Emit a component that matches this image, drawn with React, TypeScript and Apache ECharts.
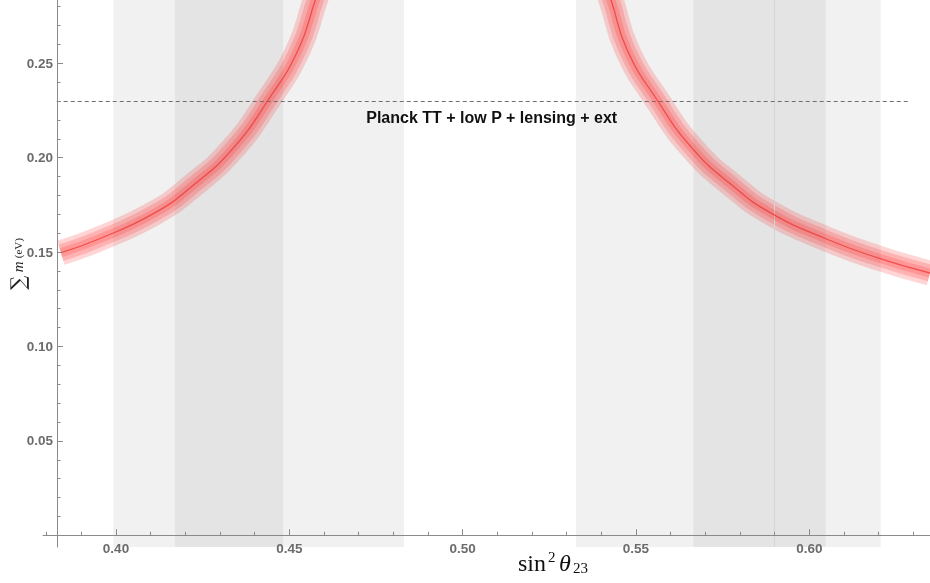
import React, { useEffect, useRef } from "react";
import * as echarts from "echarts";

// ---- data ----
const X_MIN = 0.37894;
const X_MAX = 0.63481;
const Y_MIN = -0.0062;
const Y_MAX = 0.2835;

const xMajorTicks = [0.4, 0.45, 0.5, 0.55, 0.6];
const xMinorTicks = [0.38, 0.39, 0.41, 0.42, 0.43, 0.44, 0.46, 0.47, 0.48, 0.49, 0.51, 0.52, 0.53, 0.54, 0.56, 0.57, 0.58, 0.59, 0.61, 0.62, 0.63];
const yMajorTicks = [0.05, 0.1, 0.15, 0.2, 0.25];
const yMinorTicks = [0.01, 0.02, 0.03, 0.04, 0.06, 0.07, 0.08, 0.09, 0.11, 0.12, 0.13, 0.14, 0.16, 0.17, 0.18, 0.19, 0.21, 0.22, 0.23, 0.24, 0.26, 0.27, 0.28];

// sin^2 theta23 vs sum of masses (eV), lower octant branch
const leftX = [0.3841, 0.3949, 0.4113, 0.422, 0.4335, 0.444, 0.4526, 0.4575, 0.4597];
const leftY = [0.1497, 0.1568, 0.1709, 0.185, 0.2044, 0.2308, 0.2573, 0.2835, 0.295];
// upper octant branch
const rightX = [0.5405, 0.5428, 0.5474, 0.556, 0.5665, 0.578, 0.5887, 0.6051, 0.6195, 0.6348];
const rightY = [0.295, 0.2835, 0.2573, 0.2308, 0.2044, 0.185, 0.1709, 0.1568, 0.1471, 0.1389];

// allowed ranges (3 sigma light, 1 sigma dark)
const wideRanges = [[0.3992, 0.4831], [0.5327, 0.6206]];
const narrowRanges = [[0.417, 0.4482], [0.5666, 0.6047]];
const bestFit = 0.5887;

const planckLimit = 0.23;
const planckLineRange = [0.3829, 0.629];
const planckLabel = "Planck TT + low P + lensing + ext";

export default function App() {
  const ref = useRef<HTMLDivElement>(null);
  useEffect(() => {
    if (!ref.current) return;
    const chart = echarts.init(ref.current, null, { renderer: "svg" });

    const curveData: any[] = [];
    leftX.forEach((x, i) => curveData.push([x, leftY[i]]));
    curveData.push("-");
    rightX.forEach((x, i) => curveData.push([x, rightY[i]]));

    const layer = (width: number, color: string, z: number) => ({
      type: "line",
      data: curveData,
      smooth: 0.5,
      showSymbol: false,
      symbol: "none",
      silent: true,
      connectNulls: false,
      clip: true,
      z,
      lineStyle: { width, color, cap: "butt", join: "round" },
    });

    const axisColor = "#8a8a8a";
    const labelStyle = {
      color: "#6b6b6b",
      fontWeight: "bold" as const,
      fontSize: 13.5,
      fontFamily: "Liberation Sans, Arial, sans-serif",
    };

    chart.setOption({
      animation: false,
      grid: { left: 43, right: 0, top: 0, bottom: 36, containLabel: false },
      xAxis: [
        {
          type: "value", min: X_MIN, max: X_MAX, position: "bottom", z: 10,
          axisLine: { show: true, onZero: true, lineStyle: { color: axisColor, width: 1 } },
          axisTick: { show: true, inside: true, length: 6, customValues: xMajorTicks, lineStyle: { color: axisColor } },
          axisLabel: { ...labelStyle, customValues: xMajorTicks, margin: -6, formatter: (v: number) => v.toFixed(2) },
          splitLine: { show: false },
        },
        {
          type: "value", min: X_MIN, max: X_MAX, position: "bottom", z: 10,
          axisLine: { show: false, onZero: true },
          axisTick: { show: true, inside: true, length: 3.5, customValues: xMinorTicks, lineStyle: { color: axisColor } },
          axisLabel: { show: false },
          splitLine: { show: false },
        },
      ],
      yAxis: [
        {
          type: "value", min: Y_MIN, max: Y_MAX, position: "left", offset: -14, z: 10,
          axisLine: { show: true, onZero: false, lineStyle: { color: axisColor, width: 1 } },
          axisTick: { show: true, inside: true, length: 6, customValues: yMajorTicks, lineStyle: { color: axisColor } },
          axisLabel: { ...labelStyle, customValues: yMajorTicks, margin: 4, formatter: (v: number) => v.toFixed(2) },
          splitLine: { show: false },
        },
        {
          type: "value", min: Y_MIN, max: Y_MAX, position: "left", offset: -14, z: 10,
          axisLine: { show: false, onZero: false },
          axisTick: { show: true, inside: true, length: 3.5, customValues: yMinorTicks, lineStyle: { color: axisColor } },
          axisLabel: { show: false },
          splitLine: { show: false },
        },
      ],
      series: [
        {
          type: "line", data: [], silent: true, z: 1,
          markArea: {
            silent: true,
            itemStyle: { color: "#f1f1f1" },
            data: wideRanges.map((r) => [{ xAxis: r[0] }, { xAxis: r[1] }]),
          },
        },
        {
          type: "line", data: [], silent: true, z: 1,
          markArea: {
            silent: true,
            itemStyle: { color: "#e4e4e4" },
            data: narrowRanges.map((r) => [{ xAxis: r[0] }, { xAxis: r[1] }]),
          },
          markLine: {
            silent: true, symbol: ["none", "none"], label: { show: false },
            lineStyle: { color: "#d4d4d4", width: 1, type: "solid" },
            data: [{ xAxis: bestFit }],
          },
        },
        layer(25, "rgba(255,30,30,0.19)", 3),
        layer(17, "rgba(255,30,30,0.19)", 4),
        layer(9, "rgba(255,30,30,0.19)", 5),
        layer(1.3, "rgba(235,40,40,0.65)", 6),
        {
          type: "line", data: [], silent: true, z: 7,
          markLine: {
            silent: true, symbol: ["none", "none"],
            lineStyle: { color: "#6f6f6f", width: 1, type: [4, 3] },
            label: { show: false },
            data: [[
              { coord: [planckLineRange[0], planckLimit] },
              { coord: [planckLineRange[1], planckLimit] },
            ]],
          },
        },
      ],
      graphic: [
        {
          type: "text", x: 491.7, y: 117, z: 10,
          style: {
            text: planckLabel, align: "center", verticalAlign: "middle",
            font: "bold 16px 'Liberation Sans', Arial, sans-serif", fill: "#111",
          },
        },
        { type: "text", x: 518, y: 562.5, style: { text: "sin", font: "24px 'Liberation Serif', serif", fill: "#111", verticalAlign: "middle" } },
        { type: "text", x: 548, y: 556.5, style: { text: "2", font: "15px 'Liberation Serif', serif", fill: "#111", verticalAlign: "middle" } },
        { type: "text", x: 559, y: 562.8, style: { text: "θ", font: "italic 24px 'Liberation Serif', serif", fill: "#111", verticalAlign: "middle" } },
        { type: "text", x: 573, y: 567.5, style: { text: "23", font: "15px 'Liberation Serif', serif", fill: "#111", verticalAlign: "middle" } },
        {
          type: "text", x: 18, y: 264, rotation: Math.PI / 2,
          style: {
            text: "{s|∑} {m|m} {u|(eV)}",
            align: "center", verticalAlign: "middle", fill: "#222",
            rich: {
              s: { fontSize: 20, fontFamily: "DejaVu Serif, serif", fill: "#222" },
              m: { fontSize: 15, fontStyle: "italic", fontFamily: "Liberation Serif, serif", fill: "#222" },
              u: { fontSize: 11, fontFamily: "Liberation Serif, serif", fill: "#222" },
            },
          },
        },
      ],
    });
    return () => chart.dispose();
  }, []);
  return <div ref={ref} style={{ position: "fixed", left: 0, top: 0, width: 930, height: 583 }} />;
}
